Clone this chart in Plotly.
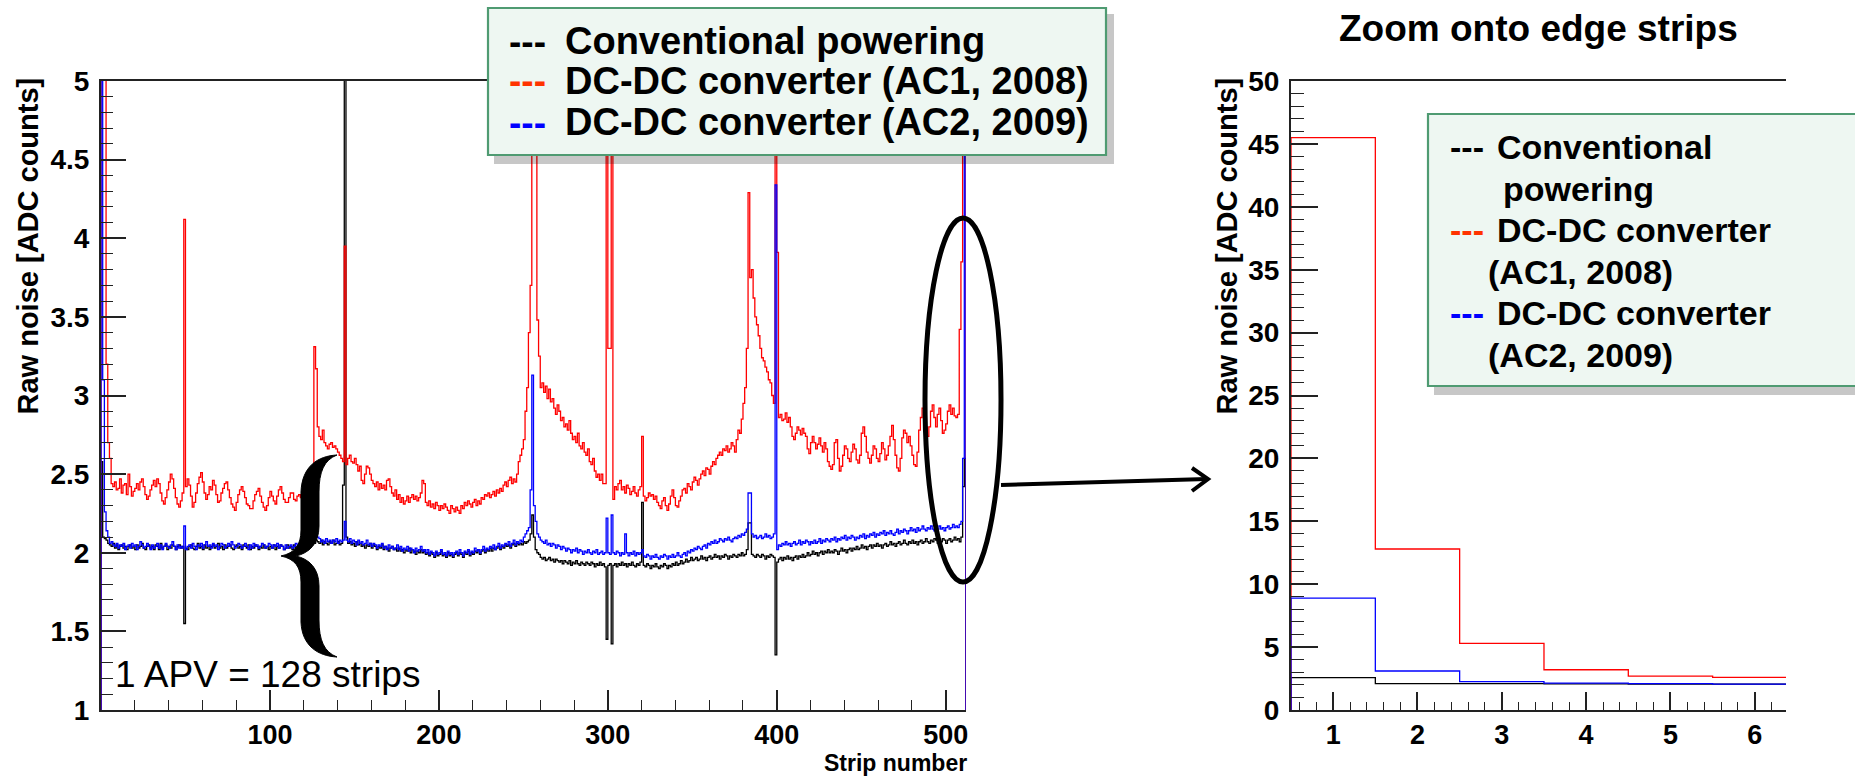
import plotly.graph_objects as go

# ---------------- data ----------------
strips = list(range(512))

conventional = [
    # APV 1 (strips 0-127)
    2.58, 2.10, 2.09, 2.08, 2.06, 2.05, 2.04, 2.06, 2.03, 2.05, 2.02, 2.04, 2.05, 2.03, 2.04, 2.02,
    2.04, 2.05, 2.03, 2.04, 2.02, 2.05, 2.03, 2.04, 2.06, 2.03, 2.02, 2.04, 2.05, 2.03, 2.04, 2.02,
    2.05, 2.04, 2.02, 2.06, 2.03, 2.04, 2.05, 2.02, 2.04, 2.03, 2.05, 2.04, 2.02, 2.04, 2.05, 2.03,
    2.04, 1.55, 2.03, 2.02, 2.04, 2.05, 2.03, 2.02, 2.04, 2.06, 2.03, 2.04, 2.02, 2.05, 2.03, 2.04,
    2.02, 2.04, 2.05, 2.03, 2.04, 2.06, 2.03, 2.04, 2.02, 2.05, 2.03, 2.04, 2.05, 2.03, 2.02, 2.04,
    2.05, 2.03, 2.04, 2.02, 2.05, 2.04, 2.03, 2.05, 2.02, 2.04, 2.03, 2.05, 2.04, 2.02, 2.04, 2.03,
    2.05, 2.03, 2.04, 2.02, 2.04, 2.03, 2.05, 2.02, 2.04, 2.03, 2.05, 2.04, 2.02, 2.03, 2.05, 2.03,
    2.04, 2.02, 2.05, 2.03, 2.04, 2.03, 2.05, 2.04, 2.03, 2.05, 2.04, 2.06, 2.05, 2.07, 2.06, 2.08,
    # APV 2 (strips 128-255)
    2.07, 2.06, 2.08, 2.05, 2.07, 2.06, 2.05, 2.07, 2.06, 2.08, 2.05, 2.06, 2.07, 2.05, 2.06, 2.43,
    5.50, 2.10, 2.06, 2.07, 2.05, 2.06, 2.04, 2.07, 2.05, 2.06, 2.04, 2.05, 2.03, 2.05, 2.04, 2.06,
    2.03, 2.05, 2.04, 2.02, 2.04, 2.03, 2.05, 2.02, 2.04, 2.03, 2.01, 2.03, 2.04, 2.02, 2.03, 2.01,
    2.03, 2.01, 2.02, 2.00, 2.02, 2.01, 2.03, 2.00, 2.02, 2.01, 1.99, 2.01, 2.00, 2.02, 2.00, 2.01,
    1.99, 2.00, 1.98, 2.00, 1.99, 1.97, 2.00, 1.98, 1.99, 2.01, 1.98, 1.99, 1.97, 2.00, 1.98, 1.99,
    1.97, 1.99, 2.00, 1.98, 2.00, 1.99, 1.97, 2.00, 1.99, 2.01, 1.98, 2.00, 1.99, 2.01, 2.00, 2.02,
    1.99, 2.01, 2.02, 2.00, 2.02, 2.01, 2.03, 2.01, 2.03, 2.02, 2.03, 2.04, 2.02, 2.04, 2.03, 2.05,
    2.04, 2.05, 2.03, 2.05, 2.06, 2.04, 2.06, 2.05, 2.06, 2.05, 2.07, 2.06, 2.07, 2.08, 2.12, 2.24,
    # APV 3 (strips 256-383)
    2.10, 2.02, 2.00, 1.99, 1.97, 1.96, 1.97, 1.95, 1.96, 1.97, 1.95, 1.96, 1.94, 1.96, 1.95, 1.94,
    1.95, 1.93, 1.95, 1.94, 1.93, 1.95, 1.92, 1.94, 1.93, 1.95, 1.93, 1.92, 1.94, 1.93, 1.92, 1.94,
    1.93, 1.92, 1.94, 1.93, 1.91, 1.93, 1.92, 1.94, 1.92, 1.93, 1.91, 1.45, 1.92, 1.93, 1.42, 1.92,
    1.93, 1.91, 1.93, 1.92, 1.94, 1.92, 1.93, 1.91, 1.93, 1.92, 1.94, 1.92, 1.91, 1.93, 1.92, 1.94,
    2.32, 1.92, 1.91, 1.93, 1.92, 1.90, 1.92, 1.91, 1.93, 1.91, 1.90, 1.92, 1.91, 1.93, 1.92, 1.90,
    1.92, 1.91, 1.93, 1.92, 1.94, 1.92, 1.93, 1.95, 1.93, 1.94, 1.96, 1.94, 1.95, 1.97, 1.95, 1.96,
    1.97, 1.95, 1.96, 1.98, 1.96, 1.97, 1.95, 1.97, 1.98, 1.96, 1.97, 1.99, 1.97, 1.98, 1.96, 1.98,
    1.97, 1.99, 1.98, 1.96, 1.98, 1.97, 1.99, 1.98, 1.97, 1.99, 1.98, 2.00, 1.98, 1.99, 2.02, 2.19,
    # APV 4 (strips 384-511)
    2.19, 1.99, 1.98, 1.97, 1.99, 1.98, 1.97, 1.99, 1.98, 1.96, 1.98, 1.97, 1.99, 1.98, 1.97, 1.35,
    1.94, 1.96, 1.97, 1.95, 1.97, 1.96, 1.98, 1.96, 1.97, 1.95, 1.97, 1.98, 1.96, 1.98, 1.97, 1.99,
    1.97, 1.98, 2.00, 1.98, 1.99, 2.01, 1.99, 2.00, 1.98, 2.00, 2.01, 1.99, 2.01, 2.00, 2.02, 2.00,
    2.01, 2.00, 2.02, 2.01, 1.99, 2.01, 2.03, 2.01, 2.02, 2.00, 2.02, 2.03, 2.01, 2.03, 2.02, 2.04,
    2.02, 2.03, 2.05, 2.03, 2.04, 2.02, 2.04, 2.05, 2.03, 2.05, 2.04, 2.06, 2.04, 2.05, 2.03, 2.05,
    2.06, 2.04, 2.05, 2.07, 2.05, 2.06, 2.04, 2.06, 2.07, 2.05, 2.06, 2.08, 2.06, 2.05, 2.07, 2.06,
    2.08, 2.06, 2.07, 2.05, 2.07, 2.08, 2.06, 2.07, 2.09, 2.07, 2.06, 2.08, 2.07, 2.09, 2.08, 2.06,
    2.08, 2.07, 2.09, 2.08, 2.06, 2.08, 2.09, 2.07, 2.08, 2.10, 2.08, 2.09, 2.07, 2.10, 2.42, 2.60,
]

dcdc_ac1_2008 = [
    # APV 1
    45.5, 12.8, 5.30, 3.20, 2.70, 2.60, 2.44, 2.42, 2.45, 2.40, 2.41, 2.47, 2.38, 2.43, 2.44, 2.37,
    2.50, 2.42, 2.36, 2.39, 2.41, 2.44, 2.40, 2.45, 2.47, 2.42, 2.37, 2.34, 2.36, 2.40, 2.43, 2.46,
    2.42, 2.47, 2.44, 2.38, 2.33, 2.31, 2.35, 2.40, 2.45, 2.50, 2.47, 2.41, 2.35, 2.31, 2.29, 2.33,
    2.38, 4.12, 2.42, 2.47, 2.43, 2.36, 2.29, 2.32, 2.38, 2.44, 2.48, 2.51, 2.45, 2.38, 2.34, 2.37,
    2.42, 2.40, 2.46, 2.43, 2.37, 2.32, 2.33, 2.38, 2.41, 2.44, 2.45, 2.40, 2.35, 2.31, 2.29, 2.27,
    2.32, 2.37, 2.40, 2.42, 2.39, 2.35, 2.31, 2.30, 2.28, 2.28, 2.33, 2.37, 2.39, 2.41, 2.36, 2.32,
    2.29, 2.27, 2.30, 2.35, 2.39, 2.36, 2.33, 2.31, 2.36, 2.40, 2.42, 2.38, 2.34, 2.32, 2.32, 2.35,
    2.38, 2.38, 2.34, 2.33, 2.36, 2.37, 2.35, 2.38, 2.40, 2.37, 2.36, 2.39, 2.41, 2.43, 3.31, 3.17,
    # APV 2
    2.80, 2.74, 2.72, 2.78, 2.70, 2.68, 2.66, 2.69, 2.70, 2.67, 2.68, 2.66, 2.64, 2.62, 2.60, 2.58,
    3.95, 2.56, 2.60, 2.62, 2.58, 2.57, 2.60, 2.56, 2.52, 2.55, 2.46, 2.44, 2.50, 2.55, 2.54, 2.50,
    2.46, 2.44, 2.42, 2.45, 2.40, 2.44, 2.41, 2.43, 2.40, 2.46, 2.47, 2.42, 2.38, 2.36, 2.40, 2.34,
    2.37, 2.32, 2.35, 2.31, 2.33, 2.36, 2.32, 2.35, 2.37, 2.34, 2.36, 2.33, 2.35, 2.38, 2.46, 2.44,
    2.32, 2.30, 2.33, 2.29, 2.31, 2.28, 2.32, 2.30, 2.27, 2.30, 2.28, 2.31, 2.29, 2.27, 2.25, 2.30,
    2.28, 2.26, 2.29, 2.27, 2.25, 2.30, 2.28, 2.32, 2.30, 2.33, 2.31, 2.29, 2.32, 2.34, 2.30, 2.33,
    2.31, 2.35, 2.34, 2.37, 2.36, 2.38, 2.35, 2.37, 2.39, 2.36, 2.40, 2.38, 2.41, 2.39, 2.43, 2.45,
    2.42, 2.46, 2.48, 2.44, 2.47, 2.45, 2.50, 2.58, 2.62, 2.66, 2.72, 2.90, 3.05, 3.40, 3.70, 8.00,
    # APV 3
    7.00, 5.80, 3.48, 3.25, 3.05, 3.08, 3.02, 3.06, 2.98, 3.04, 2.96, 2.98, 2.92, 2.88, 2.94, 2.90,
    2.84, 2.86, 2.80, 2.82, 2.78, 2.84, 2.76, 2.72, 2.74, 2.70, 2.76, 2.68, 2.66, 2.70, 2.64, 2.62,
    2.66, 2.58, 2.56, 2.60, 2.52, 2.48, 2.50, 2.46, 2.50, 2.44, 2.44, 7.00, 3.30, 3.30, 7.00, 2.34,
    2.42, 2.40, 2.44, 2.46, 2.40, 2.42, 2.38, 2.43, 2.41, 2.37, 2.39, 2.42, 2.38, 2.36, 2.40, 2.42,
    2.74, 2.36, 2.33, 2.35, 2.38, 2.36, 2.37, 2.34, 2.36, 2.32, 2.30, 2.28, 2.33, 2.35, 2.30, 2.27,
    2.31, 2.36, 2.40, 2.35, 2.30, 2.29, 2.33, 2.36, 2.40, 2.41, 2.38, 2.44, 2.42, 2.40, 2.45, 2.48,
    2.46, 2.43, 2.47, 2.50, 2.52, 2.49, 2.54, 2.53, 2.50, 2.55, 2.58, 2.56, 2.60, 2.62, 2.64, 2.62,
    2.66, 2.65, 2.68, 2.64, 2.66, 2.70, 2.68, 2.64, 2.72, 2.78, 2.76, 2.85, 2.95, 3.05, 3.30, 4.29,
    # APV 4
    3.75, 3.80, 3.62, 3.50, 3.45, 3.38, 3.30, 3.24, 3.22, 3.18, 3.15, 3.10, 3.08, 3.00, 2.95, 7.00,
    3.91, 2.86, 2.88, 2.84, 2.85, 2.89, 2.83, 2.86, 2.80, 2.74, 2.72, 2.76, 2.80, 2.78, 2.75, 2.79,
    2.76, 2.74, 2.66, 2.63, 2.70, 2.74, 2.70, 2.66, 2.69, 2.73, 2.68, 2.64, 2.70, 2.66, 2.58, 2.55,
    2.53, 2.56, 2.70, 2.72, 2.60, 2.52, 2.55, 2.62, 2.68, 2.66, 2.60, 2.58, 2.64, 2.69, 2.66, 2.59,
    2.57, 2.62, 2.76, 2.80, 2.74, 2.64, 2.60, 2.57, 2.62, 2.68, 2.66, 2.60, 2.58, 2.63, 2.70, 2.66,
    2.59, 2.62, 2.68, 2.74, 2.81, 2.72, 2.62, 2.54, 2.52, 2.60, 2.73, 2.78, 2.76, 2.70, 2.74, 2.68,
    2.62, 2.56, 2.55, 2.64, 2.78, 2.86, 2.92, 2.88, 2.80, 2.74, 2.80, 2.90, 2.94, 2.86, 2.80, 2.88,
    2.92, 2.84, 2.76, 2.78, 2.82, 2.90, 2.94, 2.88, 2.92, 2.87, 2.86, 2.88, 3.42, 3.85, 8.50, 20.0,
]

dcdc_ac2_2009 = [
    # APV 1
    8.90, 3.10, 2.26, 2.14, 2.10, 2.06, 2.07, 2.05, 2.04, 2.06, 2.03, 2.05, 2.04, 2.06, 2.02, 2.04,
    2.05, 2.03, 2.06, 2.04, 2.05, 2.02, 2.04, 2.07, 2.05, 2.03, 2.04, 2.06, 2.04, 2.02, 2.05, 2.03,
    2.04, 2.06, 2.03, 2.05, 2.02, 2.04, 2.06, 2.04, 2.03, 2.05, 2.07, 2.04, 2.02, 2.05, 2.03, 2.04,
    2.03, 2.17, 2.02, 2.04, 2.05, 2.03, 2.06, 2.04, 2.02, 2.05, 2.04, 2.06, 2.03, 2.05, 2.07, 2.04,
    2.05, 2.03, 2.06, 2.04, 2.05, 2.02, 2.04, 2.06, 2.05, 2.03, 2.04, 2.06, 2.04, 2.07, 2.05, 2.03,
    2.04, 2.06, 2.05, 2.03, 2.04, 2.06, 2.04, 2.02, 2.05, 2.03, 2.06, 2.04, 2.05, 2.03, 2.04, 2.06,
    2.05, 2.03, 2.04, 2.06, 2.05, 2.03, 2.05, 2.04, 2.06, 2.03, 2.05, 2.04, 2.02, 2.05, 2.03, 2.04,
    2.05, 2.03, 2.04, 2.06, 2.05, 2.04, 2.07, 2.08, 2.10, 2.12, 2.11, 2.14, 2.15, 2.18, 2.30, 2.36,
    # APV 2
    2.10, 2.09, 2.07, 2.08, 2.06, 2.09, 2.07, 2.08, 2.06, 2.08, 2.07, 2.09, 2.06, 2.08, 2.07, 2.08,
    2.20, 2.08, 2.07, 2.09, 2.06, 2.08, 2.07, 2.05, 2.08, 2.06, 2.07, 2.05, 2.06, 2.08, 2.05, 2.06,
    2.04, 2.06, 2.05, 2.03, 2.05, 2.04, 2.06, 2.03, 2.04, 2.02, 2.05, 2.03, 2.04, 2.02, 2.03, 2.05,
    2.02, 2.04, 2.01, 2.03, 2.02, 2.04, 2.01, 2.03, 2.02, 2.00, 2.03, 2.01, 2.02, 2.04, 2.01, 2.02,
    2.00, 2.02, 1.99, 2.01, 2.00, 1.98, 2.01, 1.99, 2.00, 2.02, 1.99, 2.00, 1.98, 2.01, 1.99, 2.00,
    1.98, 2.00, 2.01, 1.99, 2.02, 2.00, 1.98, 2.01, 2.00, 2.02, 1.99, 2.01, 2.00, 2.03, 2.01, 2.02,
    2.00, 2.02, 2.04, 2.01, 2.03, 2.02, 2.04, 2.03, 2.05, 2.02, 2.04, 2.06, 2.03, 2.05, 2.04, 2.06,
    2.05, 2.07, 2.04, 2.06, 2.08, 2.05, 2.07, 2.06, 2.08, 2.07, 2.10, 2.12, 2.14, 2.16, 2.40, 3.13,
    # APV 3
    2.30, 2.20, 2.12, 2.10, 2.08, 2.07, 2.06, 2.08, 2.05, 2.06, 2.04, 2.06, 2.05, 2.03, 2.05, 2.04,
    2.02, 2.04, 2.03, 2.01, 2.03, 2.02, 2.00, 2.02, 2.01, 2.03, 2.00, 2.02, 2.01, 1.99, 2.01, 2.00,
    2.02, 2.00, 1.99, 2.01, 2.00, 2.02, 1.99, 2.00, 2.01, 1.99, 2.00, 2.22, 2.00, 1.99, 2.24, 2.00,
    1.99, 2.01, 2.00, 1.98, 2.00, 1.99, 2.12, 2.00, 1.98, 2.00, 1.99, 2.01, 1.98, 2.00, 1.99, 2.00,
    2.02, 1.98, 1.97, 1.99, 1.98, 1.96, 1.98, 1.97, 1.99, 1.97, 1.96, 1.98, 1.97, 1.99, 1.98, 1.96,
    1.98, 1.97, 1.99, 1.97, 1.98, 2.00, 1.98, 1.97, 1.99, 2.00, 1.98, 2.01, 2.00, 2.02, 2.01, 2.03,
    2.02, 2.04, 2.03, 2.02, 2.04, 2.05, 2.03, 2.06, 2.05, 2.07, 2.06, 2.08, 2.06, 2.07, 2.09, 2.08,
    2.07, 2.09, 2.08, 2.10, 2.08, 2.07, 2.09, 2.10, 2.09, 2.11, 2.10, 2.12, 2.11, 2.13, 2.15, 2.38,
    # APV 4
    2.38, 2.12, 2.10, 2.11, 2.09, 2.10, 2.11, 2.09, 2.10, 2.12, 2.10, 2.11, 2.09, 2.10, 2.12, 4.34,
    2.02, 2.05, 2.04, 2.06, 2.05, 2.07, 2.05, 2.06, 2.04, 2.06, 2.07, 2.05, 2.06, 2.08, 2.05, 2.07,
    2.06, 2.08, 2.07, 2.05, 2.07, 2.06, 2.08, 2.06, 2.07, 2.09, 2.06, 2.08, 2.07, 2.09, 2.08, 2.07,
    2.09, 2.08, 2.10, 2.07, 2.09, 2.08, 2.10, 2.09, 2.11, 2.08, 2.10, 2.09, 2.11, 2.10, 2.08, 2.10,
    2.09, 2.11, 2.10, 2.12, 2.09, 2.11, 2.10, 2.12, 2.11, 2.13, 2.10, 2.12, 2.11, 2.13, 2.12, 2.14,
    2.11, 2.13, 2.12, 2.14, 2.12, 2.11, 2.13, 2.15, 2.12, 2.14, 2.13, 2.15, 2.14, 2.12, 2.14, 2.16,
    2.14, 2.15, 2.13, 2.16, 2.14, 2.15, 2.17, 2.15, 2.14, 2.16, 2.15, 2.17, 2.15, 2.14, 2.16, 2.15,
    2.17, 2.15, 2.16, 2.14, 2.16, 2.17, 2.15, 2.16, 2.18, 2.16, 2.17, 2.16, 2.18, 2.20, 2.60, 9.00,
]

# zoom panel: the first six (edge) strips, numbered 1..6
edge_strips = [1, 2, 3, 4, 5, 6]
N_EDGE = len(edge_strips)

series_names = ["Conventional powering", "DC-DC converter (AC1, 2008)", "DC-DC converter (AC2, 2009)"]
series_colors = ["#000000", "#ff0000", "#0000ff"]
legend_dash_colors = ["#000000", "#ff3300", "#0000ff"]

x_ticks_main = [100, 200, 300, 400, 500]

# ---------------- helpers ----------------
W, H = 1855, 776


def fx(p):
    return p / W


def fy(p):
    return 1 - p / H


def hist_outline(left_edges, values, width=1.0):
    """ROOT-like histogram outline: rises from 0 at the first edge, drops to 0 at the last."""
    xs = [left_edges[0]] + list(left_edges) + [left_edges[-1] + width, left_edges[-1] + width]
    ys = [0] + list(values) + [values[-1], 0]
    return xs, ys


def pix_path(cmds):
    """Build an SVG path in paper units from (command, [x, y, ...]) given in pixels."""
    out = []
    for c, pts in cmds:
        seg = [c]
        for i in range(0, len(pts), 2):
            seg.append(f"{fx(pts[i]):.5f},{fy(pts[i + 1]):.5f}")
        out.append(" ".join(seg))
    return " ".join(out) + " Z"


fig = go.Figure()

series_values = [conventional, dcdc_ac1_2008, dcdc_ac2_2009]

# main panel
for name, vals, col in zip(series_names, series_values, series_colors):
    xs, ys = hist_outline(strips, vals)
    fig.add_trace(go.Scatter(x=xs, y=ys, mode="lines", line=dict(color=col, width=1.3, shape="hv"),
                             name=name, xaxis="x", yaxis="y", showlegend=False))

# zoom panel
for name, vals, col in zip(series_names, series_values, series_colors):
    left = [s - 0.5 for s in edge_strips]
    xs, ys = hist_outline(left, vals[:N_EDGE])
    fig.add_trace(go.Scatter(x=xs, y=ys, mode="lines", line=dict(color=col, width=1.3, shape="hv"),
                             name=name, xaxis="x2", yaxis="y2", showlegend=False))

BOLD = dict(family="Liberation Sans, Arial, sans-serif", color="black", weight="bold")
ytickfont = dict(BOLD, size=28)
xtickfont = dict(BOLD, size=27)
axis_common = dict(showline=True, linecolor="#222222", linewidth=2, showgrid=False, zeroline=False,
                   automargin=False, ticks="inside", tickcolor="#222222", tickwidth=1.5)

fig.update_layout(
    width=W, height=H,
    margin=dict(l=0, r=0, t=0, b=0, pad=0, autoexpand=False),
    paper_bgcolor="white", plot_bgcolor="white",
    showlegend=False,
    xaxis=dict(axis_common, domain=[fx(101), fx(966)], range=[0, 512], anchor="y", mirror=True,
               tickfont=xtickfont, tickmode="array", tickvals=x_ticks_main, ticklen=20,
               minor=dict(dtick=20, tick0=0, ticklen=10, ticks="inside", tickcolor="#222222", tickwidth=1.3)),
    yaxis=dict(axis_common, domain=[fy(710), fy(81)], range=[1, 5], anchor="x",
               tickfont=ytickfont, tick0=1, dtick=0.5, ticklen=25, ticklabelstandoff=4,
               minor=dict(dtick=0.1, tick0=1, ticklen=12, ticks="inside", tickcolor="#222222", tickwidth=1.3)),
    xaxis2=dict(axis_common, domain=[fx(1291), fx(1786)], range=[0.5, 6.37], anchor="y2", mirror=True,
                tickfont=xtickfont, tick0=0, dtick=1, ticklen=18,
                minor=dict(dtick=0.2, tick0=0, ticklen=8, ticks="inside", tickcolor="#222222", tickwidth=1.3)),
    yaxis2=dict(axis_common, domain=[fy(710), fy(81)], range=[0, 50], anchor="x2",
                tickfont=ytickfont, tick0=0, dtick=5, ticklen=27, ticklabelstandoff=4,
                minor=dict(dtick=1, tick0=0, ticklen=13, ticks="inside", tickcolor="#222222", tickwidth=1.3)),
)

shapes = []
annotations = []

# ---- legend boxes (drawn as boxes + text) ----
def legend_box(x0, y0, x1, y1):
    shapes.append(dict(type="rect", xref="paper", yref="paper", layer="above",
                       x0=fx(x0 + 6), x1=fx(x1 + 8), y0=fy(y1 + 9), y1=fy(y0 + 6),
                       fillcolor="rgba(0,0,0,0.22)", line=dict(width=0)))
    shapes.append(dict(type="rect", xref="paper", yref="paper", layer="above",
                       x0=fx(x0), x1=fx(x1), y0=fy(y1), y1=fy(y0),
                       fillcolor="#eef7f2", line=dict(color="#4f9b72", width=2.2)))


legend_box(488, 8, 1106, 155)
for i, (name, dcol) in enumerate(zip(series_names, legend_dash_colors)):
    yy = [41, 81, 122][i]
    annotations.append(dict(x=fx(507), y=fy(yy), xref="paper", yref="paper", text="---",
                            showarrow=False, xanchor="left", yanchor="middle",
                            font=dict(BOLD, size=37, color=dcol)))
    annotations.append(dict(x=fx(563), y=fy(yy), xref="paper", yref="paper", text=name,
                            showarrow=False, xanchor="left", yanchor="middle",
                            font=dict(BOLD, size=38)))

legend_box(1428, 114, 1875, 386)
right_rows = [
    ("---", 1448, 147, legend_dash_colors[0]), ("Conventional", 1495, 147, "black"),
    ("powering", 1501, 189, "black"),
    ("---", 1448, 230, legend_dash_colors[1]), ("DC-DC converter", 1495, 230, "black"),
    ("(AC1, 2008)", 1486, 272, "black"),
    ("---", 1448, 313, legend_dash_colors[2]), ("DC-DC converter", 1495, 313, "black"),
    ("(AC2, 2009)", 1486, 355, "black"),
]
for txt, x, y, c in right_rows:
    annotations.append(dict(x=fx(x), y=fy(y), xref="paper", yref="paper", text=txt,
                            showarrow=False, xanchor="left", yanchor="middle",
                            font=dict(BOLD, size=34, color=c)))

# ---- axis titles and other text ----
annotations += [
    dict(x=fx(27), y=fy(76), xref="paper", yref="paper", text="Raw noise [ADC counts]",
         textangle=-90, showarrow=False, xanchor="center", yanchor="top", font=dict(BOLD, size=29)),
    dict(x=fx(1226), y=fy(76), xref="paper", yref="paper", text="Raw noise [ADC counts]",
         textangle=-90, showarrow=False, xanchor="center", yanchor="top", font=dict(BOLD, size=29)),
    dict(x=fx(969), y=fy(763), xref="paper", yref="paper", text="Strip number",
         showarrow=False, xanchor="right", yanchor="middle", font=dict(BOLD, size=23)),
    dict(x=fx(1538), y=fy(29), xref="paper", yref="paper", text="Zoom onto edge strips",
         showarrow=False, xanchor="center", yanchor="middle", font=dict(BOLD, size=37)),
    dict(x=fx(113), y=fy(674), xref="paper", yref="paper", text="1 APV = 128 strips",
         showarrow=False, xanchor="left", yanchor="middle",
         font=dict(family="Liberation Sans, Arial, sans-serif", size=37, color="black")),
]

# ---- curly brace (drawn as a filled path) ----
brace = [
    ("M", [337, 455]),
    ("C", [318, 456, 302, 466, 301, 492]),
    ("L", [301, 530]),
    ("C", [301, 545, 295, 553, 281, 556]),
    ("C", [295, 559, 301, 567, 301, 582]),
    ("L", [301, 622]),
    ("C", [302, 646, 318, 656, 337, 657]),
    ("C", [324, 652, 319, 640, 319, 620]),
    ("L", [319, 586]),
    ("C", [319, 568, 309, 559, 296, 556]),
    ("C", [309, 553, 319, 544, 319, 526]),
    ("L", [319, 492]),
    ("C", [319, 472, 324, 460, 337, 455]),
]
shapes.append(dict(type="path", xref="paper", yref="paper", layer="above", path=pix_path(brace),
                   fillcolor="black", line=dict(color="black", width=1)))

# ---- ellipse and arrow ----
shapes.append(dict(type="circle", xref="paper", yref="paper", layer="above",
                   x0=fx(925), x1=fx(1001), y0=fy(582), y1=fy(218),
                   line=dict(color="black", width=5)))
shapes.append(dict(type="path", xref="paper", yref="paper", layer="above",
                   path=f"M {fx(1001)} {fy(485)} L {fx(1207)} {fy(479)}",
                   line=dict(color="black", width=4)))
shapes.append(dict(type="path", xref="paper", yref="paper", layer="above",
                   path=f"M {fx(1192)} {fy(468)} L {fx(1208)} {fy(479)} L {fx(1192)} {fy(491)}",
                   line=dict(color="black", width=4)))

fig.update_layout(shapes=shapes, annotations=annotations)

fig.write_html("out.html")
